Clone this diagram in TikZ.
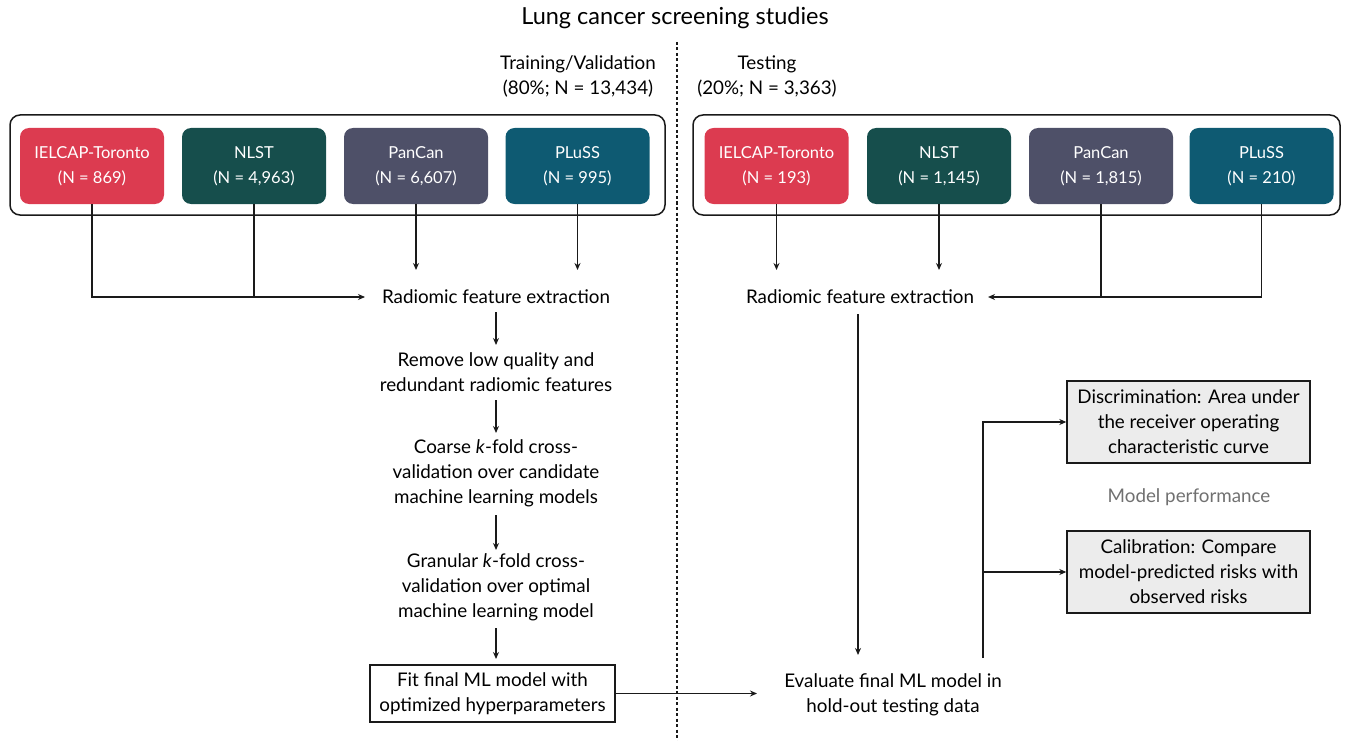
\documentclass[tikz,border=0pt]{standalone}
\usepackage{fontspec}
\setmainfont{Lato}
\usetikzlibrary{arrows.meta}
\definecolor{cielcap}{HTML}{DC3B50}
\definecolor{cnlst}{HTML}{164E4C}
\definecolor{cpancan}{HTML}{4E5068}
\definecolor{cpluss}{HTML}{0E5A72}
\definecolor{cgraybox}{HTML}{ECECEC}
\definecolor{cgraytext}{HTML}{707070}
\definecolor{cline}{HTML}{1A1A1A}
\tikzset{
  lbl/.style={align=center, inner sep=0pt, text=black},
  outerbox/.style={draw=cline, line width=1.5pt, rounded corners=10pt},
  study/.style={rounded corners=9pt, minimum width=144pt, minimum height=76pt, text=white, align=center, inner sep=0pt, font=\fontsize{16.5}{25}\selectfont},
  plainbox/.style={draw=cline, line width=1.4pt, align=center, inner sep=0pt},
  graybox/.style={draw=cline, line width=1.4pt, fill=cgraybox, align=center, inner sep=0pt, minimum width=243pt, minimum height=82pt},
  conn/.style={draw=cline, line width=1.4pt},
  arr/.style={conn, -{Stealth[length=7pt,width=6pt]}},
}
\begin{document}
\begin{tikzpicture}[x=1pt,y=-1pt, font=\fontsize{18.8}{25}\selectfont]
\useasboundingbox (0,0) rectangle (1350,741);
% header
\node[lbl, font=\fontsize{23.5}{28}\selectfont] (title) at (675,18) {Lung cancer screening studies};
\node[lbl] (trv) at (578,76) {Training/Validation\\(80\%; N = 13,434)};
\node[lbl] (tst) at (767,76) {Testing\\(20\%; N = 3,363)};
\coordinate (dtop) at (677,42);
\coordinate (dbot) at (677,741);
\draw[conn, line width=1.2pt, dash pattern=on 3pt off 2.5pt] (dtop) -- (dbot);
% outer boxes
\node[outerbox, minimum width=655pt, minimum height=100pt] (lout) at (337.5,165) {};
\node[outerbox, minimum width=647pt, minimum height=100pt] (rout) at (1016.5,165) {};
% study boxes left
\node[study, fill=cielcap] (ielL) at (92,166) {IELCAP-Toronto\\(N = 869)};
\node[study, fill=cnlst] (nlL) at (254,166) {NLST\\(N = 4,963)};
\node[study, fill=cpancan] (pcL) at (416,166) {PanCan\\(N = 6,607)};
\node[study, fill=cpluss] (plL) at (577.5,166) {PLuSS\\(N = 995)};
% study boxes right
\node[study, fill=cielcap] (ielR) at (776.5,166) {IELCAP-Toronto\\(N = 193)};
\node[study, fill=cnlst] (nlR) at (939,166) {NLST\\(N = 1,145)};
\node[study, fill=cpancan] (pcR) at (1101,166) {PanCan\\(N = 1,815)};
\node[study, fill=cpluss] (plR) at (1261.5,166) {PLuSS\\(N = 210)};
% left pipeline
\node[lbl] (rfeL) at (496,297) {Radiomic feature extraction};
\node[lbl] (rm) at (496,372) {Remove low quality and\\redundant radiomic features};
\node[lbl] (coarse) at (496,473) {Coarse \textit{k}-fold cross-\\validation over candidate\\machine learning models};
\node[lbl] (gran) at (496,587) {Granular \textit{k}-fold cross-\\validation over optimal\\machine learning model};
\node[plainbox, minimum width=245pt, minimum height=57pt] (fit) at (492.5,693.5) {Fit final ML model with\\optimized hyperparameters};
% right pipeline
\node[lbl] (rfeR) at (860,297) {Radiomic feature extraction};
\node[lbl] (eval) at (893,695) {Evaluate final ML model in\\hold-out testing data};
\node[graybox] (disc) at (1188.5,422) {Discrimination: Area under\\the receiver operating\\characteristic curve};
\node[lbl, text=cgraytext] (mp) at (1189,497) {Model performance};
\node[graybox] (cal) at (1188.5,572) {Calibration: Compare\\model-predicted risks with\\observed risks};
% coordinates
\coordinate (jL) at (365,297);
\coordinate (jR) at (988,297);
\coordinate (aL) at (0,270);
\coordinate (up) at (983,658);
\coordinate (evin) at (757,0);
% left connectors
\draw[arr] (ielL.south) |- (jL);
\draw[conn] (nlL.south) -- (nlL.south |- jL);
\draw[arr] (pcL.south) -- (pcL.south |- aL);
\draw[arr] (plL.south) -- (plL.south |- aL);
\draw[arr] (496,312) -- (496,345);
\draw[arr] (496,400) -- (496,433);
\draw[arr] (496,515) -- (496,550);
\draw[arr] (496,628) -- (496,659);
% right connectors
\draw[arr] (ielR.south) -- (ielR.south |- aL);
\draw[arr] (nlR.south) -- (nlR.south |- aL);
\draw[arr] (plR.south) |- (jR);
\draw[conn] (pcR.south) -- (pcR.south |- jR);
\draw[arr] (858,314) -- (858,655);
\draw[arr] (fit.east) -- (fit.east -| evin);
\draw[arr] (up) |- (disc.west);
\draw[arr] (up |- cal.west) -- (cal.west);
\end{tikzpicture}
\end{document}
